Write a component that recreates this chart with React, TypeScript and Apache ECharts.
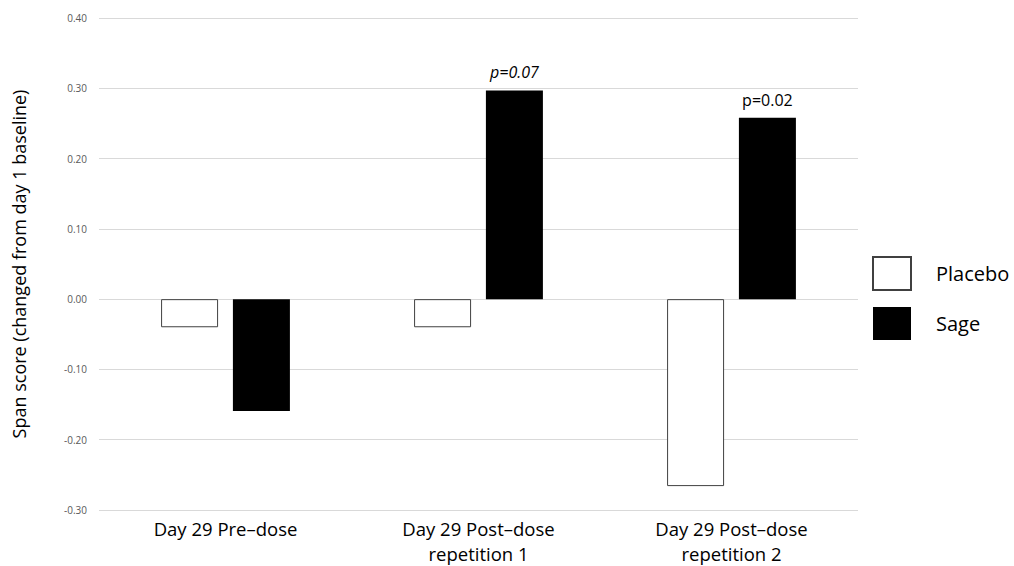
import React, { useEffect, useRef } from "react";
import * as echarts from "echarts";

const categories = ["Day 29 Pre\u2013dose", "Day 29 Post\u2013dose\nrepetition 1", "Day 29 Post\u2013dose\nrepetition 2"];
const placeboValues = [-0.04, -0.04, -0.266];
const sageValues = [-0.159, 0.297, 0.258];
const sageLabels = ["", "p=0.07", "p=0.02"];
const sageLabelItalic = [false, true, false];
const yTicks = { min: -0.3, max: 0.4, interval: 0.1 };

const FONT = "Open Sans";

export default function App() {
  const ref = useRef<HTMLDivElement>(null);
  useEffect(() => {
    document.body.style.margin = "0";
    const chart = echarts.init(ref.current!, null, { renderer: "svg" });
    chart.setOption({
      animation: false,
      backgroundColor: "#ffffff",
      textStyle: { fontFamily: FONT },
      grid: { left: 99, right: 156, top: 18, bottom: 55 },
      legend: {
        orient: "vertical",
        left: 867,
        top: 251,
        itemWidth: 38,
        itemHeight: 33,
        itemGap: 16,
        icon: "rect",
        textStyle: { fontSize: 20, color: "#000", fontFamily: FONT, padding: [0, 0, 0, 20] },
        data: ["Placebo", "Sage"],
      },
      xAxis: {
        type: "category",
        data: categories,
        axisLine: { show: false },
        axisTick: { show: false },
        axisLabel: {
          color: "#000",
          fontSize: 18.5,
          lineHeight: 25,
          margin: 6,
          fontFamily: FONT,
        },
      },
      yAxis: {
        type: "value",
        min: yTicks.min,
        max: yTicks.max,
        interval: yTicks.interval,
        name: "Span score (changed from day 1 baseline)",
        nameLocation: "middle",
        nameGap: 71,
        nameTextStyle: { fontSize: 18, color: "#000", fontFamily: FONT },
        axisLine: { show: false },
        axisTick: { show: false },
        axisLabel: {
          color: "#595959",
          fontSize: 10,
          margin: 12,
          formatter: (v: number) => v.toFixed(2),
        },
        splitLine: { lineStyle: { color: "#d9d9d9", width: 1 } },
      },
      series: [
        {
          name: "Placebo",
          type: "bar",
          data: placeboValues,
          barWidth: 57,
          barGap: "26%",
          itemStyle: { color: "#ffffff", borderColor: "#404040", borderWidth: 1 },
        },
        {
          name: "Sage",
          type: "bar",
          data: sageValues.map((v, i) => ({
            value: v,
            label: sageLabels[i]
              ? {
                  show: true,
                  position: "top",
                  distance: 10,
                  formatter: sageLabels[i],
                  fontStyle: sageLabelItalic[i] ? "italic" : "normal",
                  fontSize: 16,
                  color: "#000",
                  fontFamily: FONT,
                }
              : { show: false },
          })),
          barWidth: 57,
          itemStyle: { color: "#000000", borderColor: "#000000", borderWidth: 0 },
        },
      ],
    });
    return () => chart.dispose();
  }, []);
  return <div ref={ref} style={{ width: 1014, height: 566 }} />;
}
